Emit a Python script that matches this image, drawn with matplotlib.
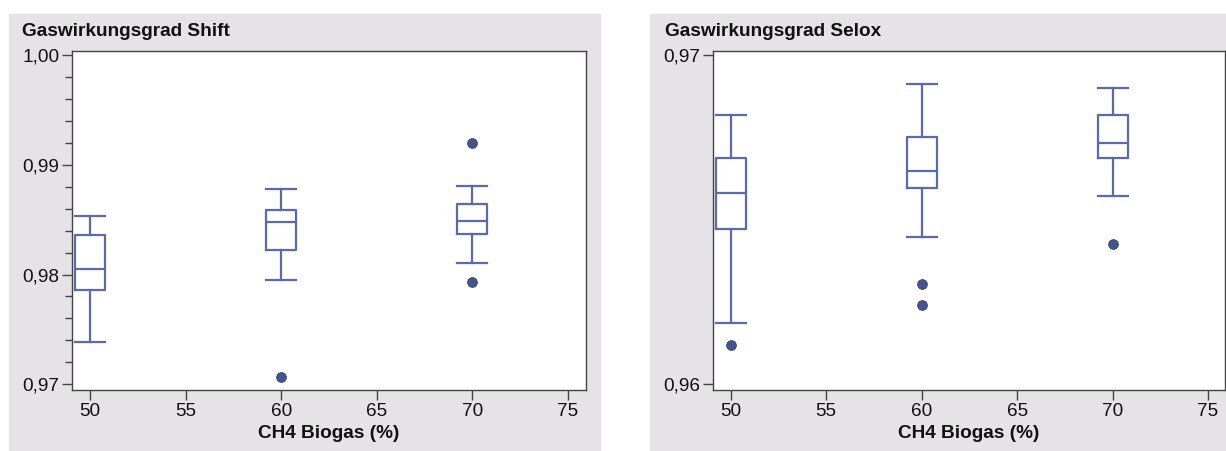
import matplotlib
matplotlib.use("Agg")
import matplotlib.pyplot as plt
from matplotlib.patches import Rectangle
from matplotlib.ticker import FixedLocator, MultipleLocator

plt.rcParams['font.family'] = ['Liberation Sans', 'DejaVu Sans']

# CH4 content of the biogas (%)
ch4_levels = [50, 60, 70]

# Gas efficiency of the shift stage: whisker low, Q1, median, Q3, whisker high, outliers
shift_whislo = [0.97385, 0.97949, 0.98105]
shift_q1 = [0.97858, 0.98224, 0.98373]
shift_med = [0.98053, 0.98474, 0.98492]
shift_q3 = [0.98364, 0.98584, 0.98642]
shift_whishi = [0.98532, 0.98779, 0.98810]
shift_fliers = [[], [0.97070], [0.99194, 0.97934]]

# Gas efficiency of the selective oxidation stage
selox_whislo = [0.961872, 0.964466, 0.965727]
selox_q1 = [0.964720, 0.965951, 0.966877]
selox_med = [0.965799, 0.966490, 0.967335]
selox_q3 = [0.966877, 0.967518, 0.968179]
selox_whishi = [0.968179, 0.969115, 0.969003]
selox_fliers = [[0.961200], [0.963052, 0.962401], [0.964262]]

shift_ticks = [0.97, 0.98, 0.99, 1.00]
shift_ticklabels = ["0,97", "0,98", "0,99", "1,00"]
selox_ticks = [0.96, 0.97]
selox_ticklabels = ["0,96", "0,97"]
x_ticks = [50, 55, 60, 65, 70, 75]

BOX = "#5b6aad"
DOT = "#45548f"
PANEL = "#e6e3e6"
TEXT = "#111111"

W, H = 1226, 451
fig = plt.figure(figsize=(W / 100, H / 100), dpi=100)
fig.patch.set_facecolor("white")

# grey panel backgrounds behind each chart
fig.patches.append(Rectangle((9 / W, 0), (600 - 9) / W, 1 - 14 / H,
                             transform=fig.transFigure, color=PANEL,
                             zorder=-10))
fig.patches.append(Rectangle((650 / W, 0), (W - 650) / W, 1 - 14 / H,
                             transform=fig.transFigure, color=PANEL,
                             zorder=-10))


def stats(lo, q1, med, q3, hi, fl):
    return [dict(whislo=a, q1=b, med=c, q3=d, whishi=e, fliers=f)
            for a, b, c, d, e, f in zip(lo, q1, med, q3, hi, fl)]


def draw(ax, st, ylim, xlim, yticks, ylabels, minor, title, title_x):
    width = 1.57
    ax.bxp(st, positions=ch4_levels, widths=width, capwidths=width,
           showfliers=True, manage_ticks=False,
           boxprops=dict(color=BOX, linewidth=1.6),
           whiskerprops=dict(color=BOX, linewidth=1.6),
           capprops=dict(color=BOX, linewidth=1.6),
           medianprops=dict(color=BOX, linewidth=1.6),
           flierprops=dict(marker="o", markerfacecolor=DOT,
                           markeredgecolor="#33406e", markeredgewidth=0.6,
                           markersize=7, linestyle="none"))
    ax.set_facecolor("white")
    ax.set_xlim(*xlim)
    ax.set_ylim(*ylim)
    ax.yaxis.set_major_locator(FixedLocator(yticks))
    ax.set_yticklabels(ylabels)
    if minor:
        ax.yaxis.set_minor_locator(MultipleLocator(minor))
    ax.xaxis.set_major_locator(FixedLocator(x_ticks))
    ax.set_xticklabels([str(v) for v in x_ticks])
    ax.tick_params(axis="both", which="major", direction="out", length=7,
                   width=1, color="#444444", labelsize=13.7, labelcolor=TEXT,
                   pad=2)
    ax.tick_params(axis="y", which="minor", direction="out", length=5,
                   width=1, color="#444444")
    for s in ax.spines.values():
        s.set_color("#444444")
        s.set_linewidth(1.0)
    ax.set_xlabel("CH4 Biogas (%)", fontsize=13.7, fontweight="bold",
                  color=TEXT, labelpad=4)
    fig.text(title_x / W, 1 - 31 / H, title, fontsize=13.7,
             fontweight="bold", color=TEXT, ha="left", va="center")


ax1 = fig.add_axes([72 / W, 1 - 390 / H, (586 - 72) / W, (390 - 51) / H])
draw(ax1, stats(shift_whislo, shift_q1, shift_med, shift_q3, shift_whishi,
                shift_fliers),
     (0.96948, 1.000364), (49.06, 75.94), shift_ticks, shift_ticklabels,
     0.002, "Gaswirkungsgrad Shift", 22)

ax2 = fig.add_axes([713 / W, 1 - 390 / H, (1225 - 713) / W, (390 - 51) / H])
draw(ax2, stats(selox_whislo, selox_q1, selox_med, selox_q3, selox_whishi,
                selox_fliers),
     (0.959827, 0.970121), (49.07, 75.89), selox_ticks, selox_ticklabels,
     None, "Gaswirkungsgrad Selox", 665)

fig.savefig("out.png", dpi=100, facecolor=fig.get_facecolor())
